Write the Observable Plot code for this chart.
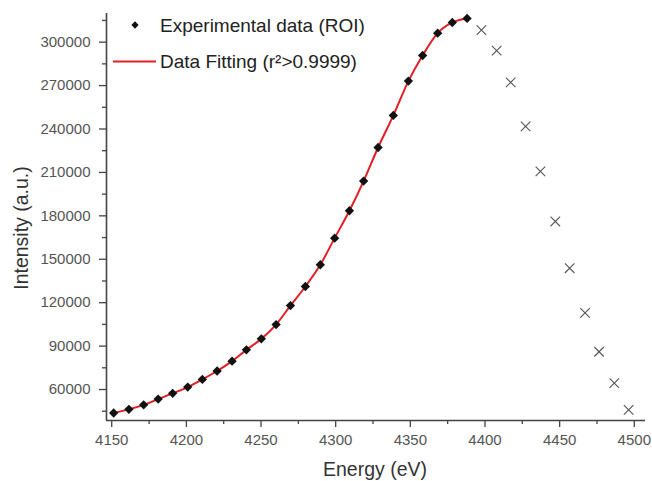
<!DOCTYPE html>
<html><head><meta charset="utf-8">
<script src="https://cdn.jsdelivr.net/npm/d3@7"></script>
<script src="https://cdn.jsdelivr.net/npm/@observablehq/plot@0.6"></script>
<style>body{margin:0;background:#fff;} svg{display:block}</style>
</head><body><div id="chart"></div>
<script>
// Experimental data within the region of interest (diamonds, fitted)
const fitEnergy = [4151.3, 4161.5, 4171.4, 4181.1, 4190.8, 4200.9, 4210.7, 4220.6, 4230.6, 4240.2,
  4250.2, 4260.1, 4269.7, 4279.7, 4289.7, 4299.3, 4309.2, 4318.7, 4328.4, 4338.6,
  4348.7, 4358.2, 4368.3, 4378.1, 4388.0];
const fitIntensity = [43800, 46300, 49400, 53400, 57400, 61700, 67000, 72800, 79600, 87400,
  95000, 104900, 118000, 131200, 146200, 164600, 183500, 204000, 227200, 249400,
  273100, 290800, 306200, 313600, 316400];
// Points outside the ROI (crosses)
const outEnergy = [4397.6, 4407.8, 4417.2, 4427.2, 4437.1, 4447.1, 4456.7, 4467.0, 4476.4, 4486.6, 4496.2];
const outIntensity = [308300, 294100, 272200, 241800, 210700, 176100, 143800, 113000, 86100, 64400, 46000];

const xTicks = [4150, 4200, 4250, 4300, 4350, 4400, 4450, 4500];
const xMinorTicks = [4175, 4225, 4275, 4325, 4375, 4425, 4475];
const yTicks = [60000, 90000, 120000, 150000, 180000, 210000, 240000, 270000, 300000];
const yMinorTicks = [45000, 75000, 105000, 135000, 165000, 195000, 225000, 255000, 285000, 315000];
const legendLabels = ["Experimental data (ROI)", "Data Fitting (r\u00B2>0.9999)"];
const xLabel = "Energy (eV)";
const yLabel = "Intensity (a.u.)";

const fit = fitEnergy.map((e, i) => ({energy: e, intensity: fitIntensity[i]}));
const outside = outEnergy.map((e, i) => ({energy: e, intensity: outIntensity[i]}));

const font = "'Liberation Sans', Arial, sans-serif";
const xDom = [4146.5, 4507.5];
const yDom = [38600, 319800];
const axisColor = "#444";

const chart = Plot.plot({
  width: 652, height: 481,
  marginLeft: 106, marginRight: 7, marginTop: 13, marginBottom: 61,
  style: {fontFamily: font, fontSize: "15px", background: "#fff", color: "#555", overflow: "visible"},
  x: {domain: xDom},
  y: {domain: yDom},
  marks: [
    Plot.axisX(xMinorTicks, {tickSize: 4, tickFormat: () => "", label: null, stroke: axisColor, strokeWidth: 1.3}),
    Plot.axisX(xTicks, {tickSize: 7, tickPadding: 7, tickFormat: d => String(d), label: null, stroke: axisColor, strokeWidth: 1.3, fill: "#555"}),
    Plot.axisY(yMinorTicks, {tickSize: 4, tickFormat: () => "", label: null, stroke: axisColor, strokeWidth: 1.3}),
    Plot.axisY(yTicks, {tickSize: 7, tickPadding: 9, tickFormat: d => String(d), label: null, stroke: axisColor, strokeWidth: 1.3, fill: "#555"}),
    Plot.ruleX([xDom[0]], {stroke: axisColor, strokeWidth: 1.6}),
    Plot.ruleY([yDom[0]], {stroke: axisColor, strokeWidth: 1.6}),
    Plot.line(fit, {x: "energy", y: "intensity", stroke: "#e31e24", strokeWidth: 2, curve: "monotone-x"}),
    Plot.dot(fit, {x: "energy", y: "intensity", symbol: "diamond2", r: 4.2, fill: "#111", stroke: "none"}),
    Plot.dot(outside, {x: "energy", y: "intensity", symbol: "times", r: 4.4, stroke: "#555", strokeWidth: 1.1})
  ]
});

const svg = d3.select(chart);
// Legend
svg.append("path")
  .attr("d", d3.symbol(d3.symbolDiamond2, 34)())
  .attr("transform", "translate(135,25)")
  .attr("fill", "#111");
svg.append("line")
  .attr("x1", 113).attr("x2", 156).attr("y1", 61.5).attr("y2", 61.5)
  .attr("stroke", "#e31e24").attr("stroke-width", 2);
legendLabels.forEach((t, i) => {
  svg.append("text")
    .attr("x", 160).attr("y", i === 0 ? 25 : 61.5)
    .attr("dy", "0.35em")
    .attr("text-anchor", "start")
    .attr("font-size", 19).attr("font-family", font)
    .attr("fill", "#222")
    .text(t);
});
// Axis titles
svg.append("text")
  .attr("x", 375).attr("y", 476)
  .attr("text-anchor", "middle")
  .attr("font-size", 19.5).attr("font-family", font).attr("fill", "#333")
  .text(xLabel);
svg.append("text")
  .attr("transform", "translate(21,228) rotate(-90)")
  .attr("text-anchor", "middle").attr("dy", "0.35em")
  .attr("font-size", 19.5).attr("font-family", font).attr("fill", "#333")
  .text(yLabel);

document.getElementById("chart").appendChild(chart);
</script>
</body></html>
